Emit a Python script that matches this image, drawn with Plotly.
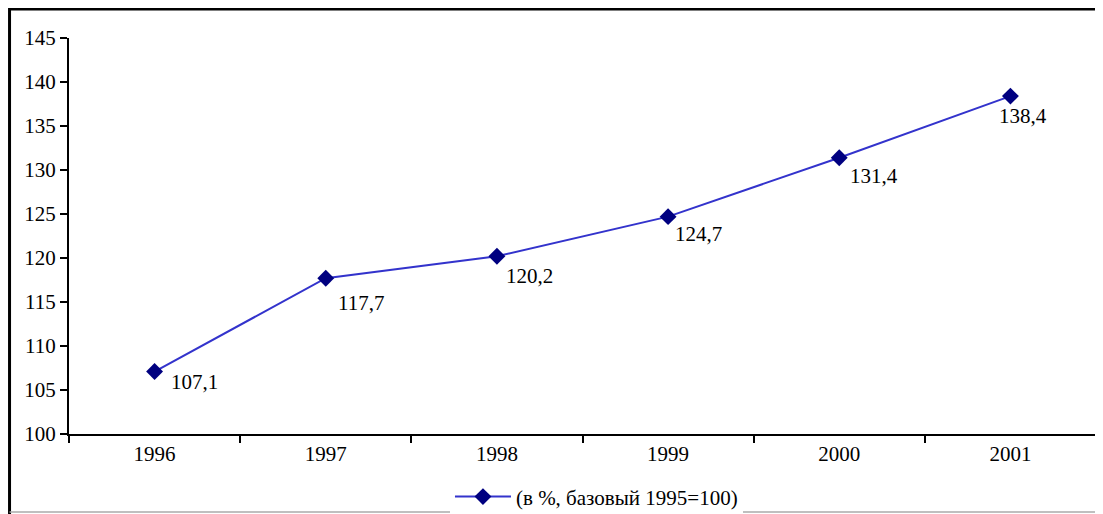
import plotly.graph_objects as go

years = ["1996", "1997", "1998", "1999", "2000", "2001"]
values = [107.1, 117.7, 120.2, 124.7, 131.4, 138.4]
series_name = "(в %, базовый 1995=100)"

FONT = "Times New Roman, Liberation Serif, serif"
FS = 21
# label offsets (px) from each marker: (right, down)
label_offsets = [(40, 10), (35, 25), (33, 20), (30, 17), (35, 18), (13, 20)]

fig = go.Figure()
fig.add_trace(go.Scatter(
    x=years, y=values, name=series_name,
    mode="lines+markers",
    line=dict(color="#3333CC", width=2),
    marker=dict(symbol="diamond", size=13, color="#000080"),
    cliponaxis=False,
))

# category axis: annotation x is the category's serial index
annotations = []
for i, (v, (dx, dy)) in enumerate(zip(values, label_offsets)):
    annotations.append(dict(
        x=i, y=v, xref="x", yref="y", text=f"{v:.1f}".replace(".", ","),
        showarrow=False, xshift=dx, yshift=-dy,
        font=dict(family=FONT, size=FS, color="black"),
    ))

axis_common = dict(showline=True, linecolor="black", linewidth=2,
                   ticks="outside", tickcolor="black", tickwidth=2,
                   showgrid=False, zeroline=False, automargin=False,
                   tickfont=dict(family=FONT, size=FS, color="black"))

fig.update_xaxes(type="category", tickson="boundaries", ticklen=7,
                 range=[-0.5, 5.5], autorange=False, **axis_common)
fig.update_yaxes(range=[100, 145], autorange=False, dtick=5, tick0=100, ticklen=7,
                 **axis_common)

# page body has an 8px default margin, so the figure is offset by 8px
fig.update_layout(
    width=1095, height=506,
    margin=dict(l=61, r=7, t=30, b=80, autoexpand=False),
    paper_bgcolor="white", plot_bgcolor="white",
    separators=", ",
    font=dict(family=FONT, size=FS, color="black"),
    showlegend=True,
    legend=dict(orientation="h", x=0.5136, xanchor="center", y=-0.159, yanchor="middle",
                itemwidth=56,
                font=dict(family=FONT, size=FS, color="black")),
    annotations=annotations,
    shapes=[
        dict(type="line", xref="paper", yref="paper", x0=-0.0579, x1=1.01,
             y0=1.0745, y1=1.0745, line=dict(color="black", width=4)),
        dict(type="line", xref="paper", yref="paper", x0=-0.0579, x1=-0.0579,
             y0=1.08, y1=-0.21, line=dict(color="black", width=3)),
        dict(type="line", xref="paper", yref="paper", x0=-0.0579, x1=1.01,
             y0=-0.197, y1=-0.197, line=dict(color="#AAAAAA", width=1.5)),
    ],
)

fig.write_html("out.html")
